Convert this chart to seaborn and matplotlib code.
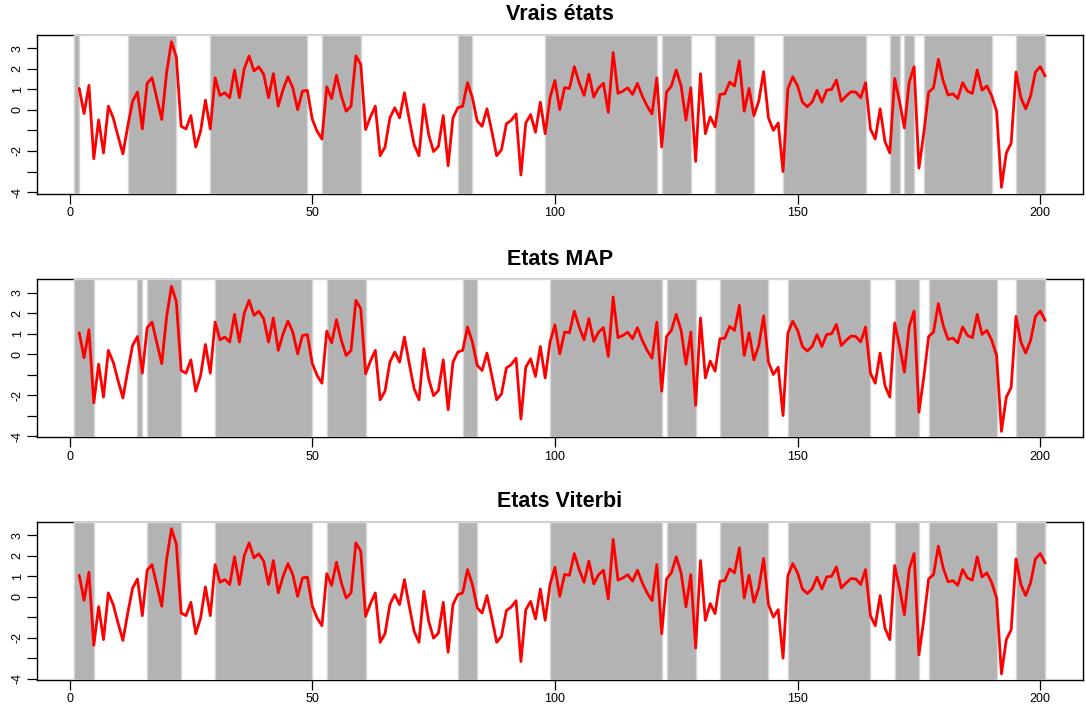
import numpy as np
import pandas as pd
import matplotlib
matplotlib.use("Agg")
import matplotlib.pyplot as plt
import seaborn as sns

# Observed series (time steps 2..201)
temps = np.arange(2, 202)
observations = [
    1.04, -0.18, 1.19, -2.38, -0.49, -2.10, 0.18, -0.39, -1.29, -2.14,
    -0.80, 0.42, 0.86, -0.93, 1.29, 1.56, 0.55, -0.47, 1.81, 3.31,
    2.57, -0.80, -0.93, -0.28, -1.81, -1.05, 0.47, -0.93, 1.56, 0.70,
    0.83, 0.59, 1.94, 0.59, 2.00, 2.62, 1.89, 2.09, 1.73, 0.59,
    1.76, 0.18, 0.99, 1.61, 1.07, 0.01, 0.91, 0.95, -0.45, -1.04,
    -1.42, 1.12, 0.55, 1.68, 0.67, -0.07, 0.18, 2.62, 2.22, -0.96,
    -0.34, 0.18, -2.23, -1.81, -0.39, 0.10, -0.39, 0.83, -0.47, -1.70,
    -2.23, 0.26, -1.21, -2.03, -1.78, -0.28, -2.72, -0.39, 0.10, 0.18,
    1.32, 0.59, -0.55, -0.80, 0.05, -1.04, -2.23, -1.94, -0.68, -0.51,
    -0.20, -3.17, -0.64, -0.23, -1.09, 0.37, -1.16, 0.59, 1.43, 0.01,
    1.08, 1.04, 2.10, 1.32, 0.70, 1.73, 0.62, 1.07, 1.29, -0.12,
    2.79, 0.80, 0.91, 1.07, 0.75, 1.29, 0.67, 0.18, -0.20, 1.56,
    -1.81, 0.86, 1.16, 1.94, 1.16, -0.50, 1.07, -2.51, 1.76, -1.16,
    -0.34, -0.83, 0.75, 0.78, 1.35, 1.16, 2.38, -0.07, 1.04, -0.28,
    0.42, 1.86, -0.39, -1.00, -0.64, -3.00, 1.02, 1.61, 1.16, 0.37,
    0.15, 0.38, 0.95, 0.37, 0.96, 0.99, 1.45, 0.42, 0.67, 0.88,
    0.86, 0.59, 1.32, -0.93, -1.42, 0.05, -1.54, -2.10, 1.52, 0.42,
    -0.88, 1.35, 2.10, -2.84, -1.13, 0.86, 1.07, 2.46, 1.40, 0.72,
    0.78, 0.55, 1.32, 0.91, 0.80, 1.94, 0.96, 1.16, 0.67, -0.07,
    -3.77, -2.10, -1.62, 1.84, 0.59, 0.05, 0.67, 1.84, 2.10, 1.64,
]

# Intervals spent in state 2 (shaded), one pair of lists per panel
vrais_debut = [1, 12, 29, 52, 80, 98, 122, 133, 147, 169, 172, 176, 195]
vrais_fin = [2, 22, 49, 60, 83, 121, 128, 141, 164, 171, 174, 190, 201]
map_debut = [1, 14, 16, 30, 53, 81, 99, 123, 134, 148, 170, 177, 195]
map_fin = [5, 15, 23, 50, 61, 84, 122, 129, 144, 165, 175, 191, 201]
viterbi_debut = [1, 16, 30, 53, 80, 99, 123, 134, 148, 170, 177, 195]
viterbi_fin = [5, 23, 50, 61, 84, 122, 129, 144, 165, 175, 191, 201]

titres = ["Vrais états", "Etats MAP", "Etats Viterbi"]
x_ticks = [0, 50, 100, 150, 200]
y_ticks = [-4, -3, -2, -1, 0, 1, 2, 3]
y_tick_labels = ["-4", "", "-2", "", "0", "1", "2", "3"]
periode = (1, 201)

sns.set_style("white")
plt.rcParams["font.family"] = ["Liberation Sans", "DejaVu Sans"]

fig = plt.figure(figsize=(10.86, 7.2), dpi=100)
W, H = 1086.0, 720.0
left, right = 37 / W, 1083 / W
boxes = [(35, 193.5), (279.5, 437.5), (522, 680)]
segments = [(vrais_debut, vrais_fin), (map_debut, map_fin), (viterbi_debut, viterbi_fin)]

gris = "#b3b3b3"
bord = "#d6d6d6"

for (top, bottom), titre, (debut, fin) in zip(boxes, titres, segments):
    ax = fig.add_axes([left, 1 - bottom / H, right - left, (bottom - top) / H])
    # background columns over the observed period, drawn over the frame
    ax.axvspan(periode[0], periode[1], facecolor="white", edgecolor=bord,
               linewidth=1.0, zorder=3)
    for a, b in zip(debut, fin):
        ax.axvspan(a, b, facecolor=gris, edgecolor=bord, linewidth=1.0, zorder=3)
    sns.lineplot(x=temps, y=observations, ax=ax, color="red", linewidth=2.0,
                 zorder=4)
    ax.set_xlim(-6.7, 208.8)
    ax.set_ylim(-4.07, 3.64)
    ax.set_xticks(x_ticks)
    ax.set_xticklabels([str(v) for v in x_ticks])
    ax.set_yticks(y_ticks)
    ax.set_yticklabels(y_tick_labels, rotation=90, va="center")
    ax.tick_params(axis="both", direction="out", length=7, width=0.9,
                   color="black", labelcolor="black", labelsize=9,
                   bottom=True, left=True)
    ax.tick_params(axis="x", pad=2.5)
    ax.tick_params(axis="y", pad=2.5)
    for s in ax.spines.values():
        s.set_color("black")
        s.set_linewidth(1.0)
    ax.set_xlabel("")
    ax.set_ylabel("")
    ax.set_title(titre, fontweight="bold", fontsize=15.5, pad=10.5, color="black")

fig.savefig("out.png", dpi=100)
